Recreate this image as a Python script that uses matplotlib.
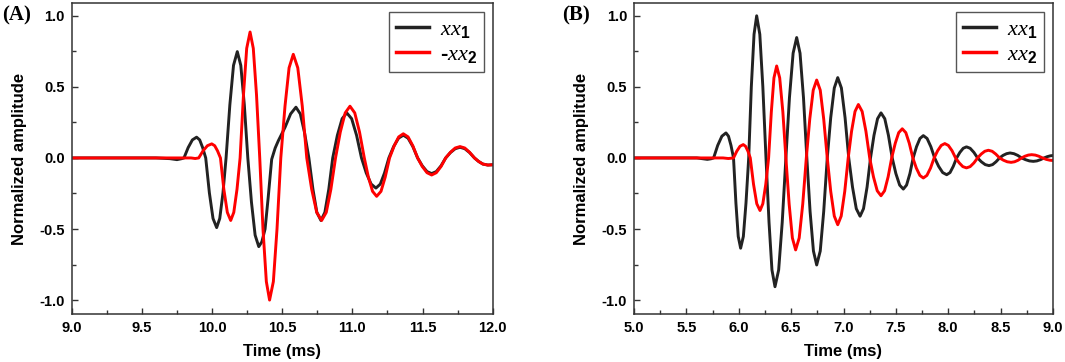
import matplotlib
matplotlib.use("Agg")
from matplotlib import pyplot as plt
from matplotlib.ticker import MultipleLocator

# panel (A): time in ms, normalized amplitude
t_a1 = [9.00, 9.60, 9.70, 9.75, 9.78,
        9.80, 9.83, 9.86, 9.89, 9.912, 9.933,
        9.955, 9.981, 10.007, 10.033, 10.055, 10.078,
        10.10, 10.127, 10.153, 10.18, 10.205, 10.23,
        10.255, 10.281, 10.307, 10.333, 10.355, 10.378, 10.40, 10.425, 10.45, 10.472,
        10.52, 10.56, 10.598, 10.629, 10.659,
        10.69, 10.719, 10.747, 10.776, 10.804, 10.832,
        10.86, 10.893, 10.927, 10.96, 10.995, 11.03,
        11.065, 11.099, 11.134, 11.168, 11.199, 11.229,
        11.26, 11.294, 11.329, 11.363, 11.397, 11.431,
        11.465, 11.498, 11.532, 11.565, 11.598, 11.632,
        11.665, 11.699, 11.733, 11.767, 11.801, 11.835,
        11.87, 11.90, 11.93, 11.965, 12.00]
xx1_a = [0.0, 0.0, -0.005, -0.012, -0.006,
         0.0, 0.073, 0.127, 0.146, 0.127, 0.073,
         0.0, -0.245, -0.426, -0.49, -0.426, -0.245,
         0.0, 0.374, 0.651, 0.748, 0.651, 0.374,
         0.0, -0.312, -0.543, -0.624, -0.59, -0.50, -0.28, -0.01, 0.07, 0.12,
         0.215, 0.31, 0.357, 0.31, 0.179,
         0.0, -0.22, -0.383, -0.44, -0.383, -0.22,
         0.0, 0.159, 0.276, 0.317, 0.276, 0.159,
         0.0, -0.106, -0.184, -0.212, -0.184, -0.106,
         0.0, 0.08, 0.139, 0.16, 0.139, 0.08,
         0.0, -0.055, -0.096, -0.11, -0.096, -0.055,
         0.0, 0.038, 0.065, 0.075, 0.065, 0.038,
         0.0, -0.025, -0.043, -0.05, -0.048]

t_a2 = [9.00, 9.85, 9.88,
        9.905, 9.936, 9.967, 9.998, 10.019, 10.039,
        10.06, 10.084, 10.109, 10.133, 10.155, 10.178,
        10.20, 10.224, 10.247, 10.271, 10.294, 10.317,
        10.34, 10.363, 10.387, 10.41, 10.437, 10.463,
        10.49, 10.52, 10.549, 10.579, 10.611, 10.643,
        10.675, 10.71, 10.746, 10.781, 10.814, 10.847,
        10.88, 10.914, 10.949, 10.983, 11.017, 11.051,
        11.085, 11.114, 11.144, 11.173, 11.204, 11.234,
        11.265, 11.298, 11.33, 11.363, 11.397, 11.431,
        11.465, 11.498, 11.532, 11.565, 11.598, 11.632,
        11.665, 11.699, 11.733, 11.767, 11.801, 11.835,
        11.87, 11.90, 11.93, 11.965, 12.00]
neg_xx2_a = [0.0, 0.0, -0.004,
             0.0, 0.05, 0.086, 0.099, 0.086, 0.05,
             0.0, -0.22, -0.383, -0.44, -0.383, -0.22,
             0.0, 0.443, 0.771, 0.886, 0.771, 0.443,
             0.0, -0.5, -0.87, -1.0, -0.87, -0.5,
             0.0, 0.365, 0.634, 0.729, 0.634, 0.365,
             0.0, -0.22, -0.383, -0.44, -0.383, -0.22,
             0.0, 0.182, 0.317, 0.364, 0.317, 0.182,
             0.0, -0.135, -0.235, -0.27, -0.235, -0.135,
             0.0, 0.085, 0.148, 0.17, 0.148, 0.085,
             0.0, -0.06, -0.104, -0.12, -0.104, -0.06,
             0.0, 0.04, 0.07, 0.08, 0.07, 0.04,
             0.0, -0.025, -0.043, -0.05, -0.048]

# panel (B)
t_b1 = [5.00, 5.60, 5.66, 5.70, 5.735,
        5.76, 5.799, 5.839, 5.878, 5.902, 5.926,
        5.95, 5.973, 5.995, 6.018, 6.044, 6.069,
        6.095, 6.12, 6.146, 6.171, 6.201, 6.23,
        6.26, 6.289, 6.317, 6.346, 6.381, 6.415,
        6.45, 6.484, 6.519, 6.553, 6.585, 6.618,
        6.65, 6.681, 6.713, 6.744, 6.778, 6.811,
        6.845, 6.878, 6.912, 6.945, 6.98, 7.015,
        7.05, 7.086, 7.122, 7.158, 7.191, 7.225,
        7.258, 7.291, 7.325, 7.358, 7.394, 7.429,
        7.465, 7.50, 7.536, 7.571, 7.602, 7.634,
        7.665, 7.697, 7.73, 7.762, 7.798, 7.834,
        7.87, 7.908, 7.947, 7.985, 8.017, 8.048,
        8.08, 8.111, 8.143, 8.174, 8.209, 8.245,
        8.28, 8.316, 8.353, 8.389, 8.423, 8.456,
        8.49, 8.523, 8.557, 8.59, 8.627, 8.663,
        8.70, 8.737, 8.775, 8.812, 8.846, 8.881,
        8.915, 8.945, 8.975, 9.00]
xx1_b = [0.0, 0.0, -0.006, -0.01, -0.006,
         0.0, 0.088, 0.153, 0.176, 0.153, 0.088,
         0.0, -0.318, -0.552, -0.635, -0.552, -0.318,
         0.0, 0.5, 0.87, 1.0, 0.87, 0.5,
         0.0, -0.453, -0.788, -0.906, -0.788, -0.453,
         0.0, 0.424, 0.737, 0.847, 0.737, 0.424,
         0.0, -0.377, -0.655, -0.753, -0.655, -0.377,
         0.0, 0.283, 0.492, 0.565, 0.492, 0.283,
         0.0, -0.205, -0.357, -0.41, -0.357, -0.205,
         0.0, 0.159, 0.276, 0.317, 0.276, 0.159,
         0.0, -0.11, -0.191, -0.219, -0.191, -0.11,
         0.0, 0.079, 0.137, 0.157, 0.137, 0.079,
         0.0, -0.059, -0.103, -0.118, -0.103, -0.059,
         0.0, 0.039, 0.068, 0.078, 0.068, 0.039,
         0.0, -0.027, -0.047, -0.054, -0.047, -0.027,
         0.0, 0.018, 0.03, 0.035, 0.03, 0.018,
         0.0, -0.012, -0.021, -0.024, -0.021, -0.012,
         0.0, 0.009, 0.015, 0.017]

t_b2 = [5.00, 5.85, 5.90, 5.93,
        5.95, 5.981, 6.012, 6.043, 6.065, 6.088,
        6.11, 6.141, 6.172, 6.203, 6.23, 6.258,
        6.285, 6.311, 6.336, 6.362, 6.391, 6.421,
        6.45, 6.481, 6.512, 6.543, 6.577, 6.611,
        6.645, 6.678, 6.711, 6.744, 6.778, 6.811,
        6.845, 6.878, 6.912, 6.945, 6.978, 7.012,
        7.045, 7.077, 7.11, 7.142, 7.178, 7.214,
        7.25, 7.286, 7.322, 7.358, 7.392, 7.426,
        7.46, 7.494, 7.527, 7.561, 7.595, 7.628,
        7.662, 7.695, 7.729, 7.762, 7.796, 7.831,
        7.865, 7.899, 7.933, 7.967, 8.001, 8.036,
        8.07, 8.105, 8.139, 8.174, 8.209, 8.245,
        8.28, 8.314, 8.349, 8.383, 8.419, 8.454,
        8.49, 8.527, 8.563, 8.60, 8.633, 8.667,
        8.70, 8.732, 8.764, 8.796, 8.831, 8.865,
        8.90, 8.935, 8.97, 9.00]
xx2_b = [0.0, 0.0, -0.004, -0.002,
         0.0, 0.047, 0.082, 0.094, 0.082, 0.047,
         0.0, -0.185, -0.322, -0.37, -0.322, -0.185,
         0.0, 0.324, 0.563, 0.647, 0.563, 0.324,
         0.0, -0.324, -0.563, -0.647, -0.563, -0.324,
         0.0, 0.274, 0.477, 0.548, 0.477, 0.274,
         0.0, -0.235, -0.409, -0.47, -0.409, -0.235,
         0.0, 0.188, 0.327, 0.376, 0.327, 0.188,
         0.0, -0.133, -0.231, -0.266, -0.231, -0.133,
         0.0, 0.103, 0.178, 0.205, 0.178, 0.103,
         0.0, -0.071, -0.123, -0.141, -0.123, -0.071,
         0.0, 0.051, 0.088, 0.101, 0.088, 0.051,
         0.0, -0.035, -0.061, -0.07, -0.061, -0.035,
         0.0, 0.027, 0.047, 0.054, 0.047, 0.027,
         0.0, -0.016, -0.027, -0.031, -0.027, -0.016,
         0.0, 0.012, 0.02, 0.023, 0.02, 0.012,
         0.0, -0.01, -0.016, -0.018]

plt.rcParams['axes.unicode_minus'] = False
plt.rcParams['mathtext.fontset'] = 'custom'
plt.rcParams['mathtext.it'] = 'Liberation Serif:italic'
plt.rcParams['mathtext.bf'] = 'Liberation Sans:bold'
plt.rcParams['font.family'] = 'Liberation Sans'
plt.rcParams['lines.solid_joinstyle'] = 'round'

BLACK = '#222222'
RED = '#ff0000'

fig = plt.figure(figsize=(10.65, 3.62), dpi=100)
ax_a = fig.add_axes([71.7 / 1065, 1 - 314.3 / 362, 421 / 1065, 311.3 / 362])
ax_b = fig.add_axes([634 / 1065, 1 - 314.3 / 362, 419 / 1065, 311.3 / 362])


def style_axes(ax, xlim, xmajor):
    ax.set_xlim(*xlim)
    ax.set_ylim(-1.1, 1.09)
    ax.xaxis.set_major_locator(MultipleLocator(xmajor))
    ax.xaxis.set_minor_locator(MultipleLocator(xmajor / 2))
    ax.yaxis.set_major_locator(MultipleLocator(0.5))
    ax.yaxis.set_minor_locator(MultipleLocator(0.25))
    ax.xaxis.set_major_formatter(lambda v, p: f'{v:.1f}')
    ax.yaxis.set_major_formatter(lambda v, p: f'{v:.1f}')
    ax.tick_params(which='both', direction='in', width=1.0, color='#333333',
                   labelsize=10.5, pad=5)
    ax.tick_params(which='major', length=4.5)
    ax.tick_params(which='minor', length=3)
    for lab in ax.get_xticklabels() + ax.get_yticklabels():
        lab.set_fontweight('bold')
    for sp in ax.spines.values():
        sp.set_linewidth(1.1)
        sp.set_color('#333333')
    ax.set_xlabel('Time (ms)', fontsize=12, fontweight='bold', labelpad=6)
    ax.set_ylabel('Normalized amplitude', fontsize=12, fontweight='bold', labelpad=9)


ax_a.plot(t_a1, xx1_a, color=BLACK, lw=2.1, label=r'$\mathit{xx}_{\mathbf{1}}$')
ax_a.plot(t_a2, neg_xx2_a, color=RED, lw=2.1, label='-' + r'$\mathit{xx}_{\mathbf{2}}$')
style_axes(ax_a, (9.0, 12.0), 0.5)

ax_b.plot(t_b1, xx1_b, color=BLACK, lw=2.1, label=r'$\mathit{xx}_{\mathbf{1}}$')
ax_b.plot(t_b2, xx2_b, color=RED, lw=2.1, label=r'$\mathit{xx}_{\mathbf{2}}$')
style_axes(ax_b, (5.0, 9.0), 0.5)

for ax in (ax_a, ax_b):
    leg = ax.legend(loc='upper right', fontsize=16, handlelength=1.5, handletextpad=0.5,
                    labelspacing=0.2, borderpad=0.3, borderaxespad=0.4,
                    fancybox=False, framealpha=1)
    leg.get_frame().set_edgecolor('#555555')
    leg.get_frame().set_linewidth(1.0)
    for txt in leg.get_texts():
        txt.set_fontweight('bold')
    for ln in leg.get_lines():
        ln.set_linewidth(2.5)

fig.text(0.002, 0.985, '(A)', fontsize=15, fontweight='bold', family='Liberation Serif',
         va='top', ha='left')
fig.text(562 / 1065, 0.985, '(B)', fontsize=15, fontweight='bold', family='Liberation Serif',
         va='top', ha='left')

fig.savefig('out.png', dpi=100)
